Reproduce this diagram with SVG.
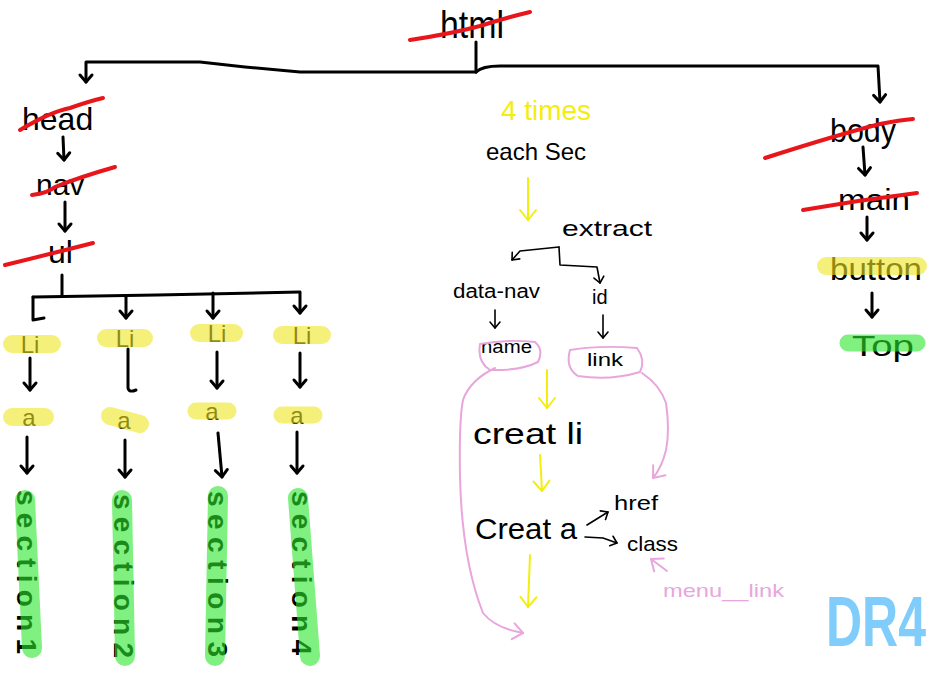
<svg xmlns="http://www.w3.org/2000/svg" width="934" height="676" viewBox="0 0 934 676">
<defs>
<style>
.t{font-family:"Liberation Sans","DejaVu Sans",sans-serif;fill:#000}
.c{text-anchor:middle}
.ln{fill:none;stroke:#000;stroke-width:3;stroke-linecap:round;stroke-linejoin:round}
.th{fill:none;stroke:#000;stroke-width:1.6;stroke-linecap:round;stroke-linejoin:round}
.ya{fill:none;stroke:#f3ee10;stroke-width:2;stroke-linecap:round}
.pk{fill:none;stroke:#e8a6dc;stroke-width:2;stroke-linecap:round;stroke-linejoin:round}
.st{fill:none;stroke:#e8161b;stroke-width:4;stroke-linecap:round}
.hy{fill:none;stroke:#eee621;stroke-opacity:0.6;stroke-linecap:round}
.hg{fill:none;stroke:#2be62b;stroke-opacity:0.6;stroke-linecap:round}
.sec{font-size:28px;font-weight:bold}
</style>
<marker id="ab" viewBox="-10 -8 12 16" refX="0" refY="0" markerWidth="12" markerHeight="16" markerUnits="userSpaceOnUse" orient="auto" overflow="visible"><path d="M-7,-6 L0,0 L-7,6" fill="none" stroke="#000" stroke-width="3" stroke-linecap="round" stroke-linejoin="round"/></marker>
<marker id="at" viewBox="-10 -8 12 16" refX="0" refY="0" markerWidth="12" markerHeight="16" markerUnits="userSpaceOnUse" orient="auto" overflow="visible"><path d="M-6,-5 L0,0 L-6,5" fill="none" stroke="#000" stroke-width="1.6" stroke-linecap="round" stroke-linejoin="round"/></marker>
<marker id="ay" viewBox="-14 -10 16 20" refX="0" refY="0" markerWidth="16" markerHeight="20" markerUnits="userSpaceOnUse" orient="auto" overflow="visible"><path d="M-10,-8 L0,0 L-10,8" fill="none" stroke="#f3ee10" stroke-width="2" stroke-linecap="round" stroke-linejoin="round"/></marker>
<marker id="ap" viewBox="-14 -10 16 20" refX="0" refY="0" markerWidth="16" markerHeight="20" markerUnits="userSpaceOnUse" orient="auto" overflow="visible"><path d="M-10,-8 L0,0 L-10,8" fill="none" stroke="#e8a6dc" stroke-width="2" stroke-linecap="round" stroke-linejoin="round"/></marker>
</defs>
<rect width="934" height="676" fill="#fff"/>

<g id="connectors">
<path class="ln" d="M476,42 L476,72"/>
<path class="ln" d="M476,72 L300,72 L245,67 L200,62 L86,62 L86,82" marker-end="url(#ab)"/>
<path class="ln" d="M476,72 Q482,66 500,66 L878,66 L880,102" marker-end="url(#ab)"/>
<path class="ln" d="M63,137 L64,160" marker-end="url(#ab)"/>
<path class="ln" d="M65,202 L65,231" marker-end="url(#ab)"/>
<path class="ln" d="M62,275 L62,295"/>
<path class="ln" d="M33,297 L157,295 L300,292"/>
<path class="ln" d="M33,297 L33,320 L44,318"/>
<path class="ln" d="M126,297 L126,318" marker-end="url(#ab)"/>
<path class="ln" d="M213,293 L213,318" marker-end="url(#ab)"/>
<path class="ln" d="M300,293 L300,313" marker-end="url(#ab)"/>
<path class="ln" d="M30,358 L30,390" marker-end="url(#ab)"/>
<path class="ln" d="M128,349 L128,388 Q129,393 136,390"/>
<path class="ln" d="M217,352 L217,388" marker-end="url(#ab)"/>
<path class="ln" d="M300,353 L300,387" marker-end="url(#ab)"/>
<path class="ln" d="M27,437 L27,473" marker-end="url(#ab)"/>
<path class="ln" d="M125,440 L125,477" marker-end="url(#ab)"/>
<path class="ln" d="M218,433 L222,477" marker-end="url(#ab)"/>
<path class="ln" d="M297,432 L297,473" marker-end="url(#ab)"/>
<path class="ln" d="M863,147 L865,175" marker-end="url(#ab)"/>
<path class="ln" d="M867,217 L867,240" marker-end="url(#ab)"/>
<path class="ln" d="M872,293 L872,317" marker-end="url(#ab)"/>
<path class="ya" d="M528,178 L528,220" marker-end="url(#ay)"/>
<path class="th" d="M559,247 L520,251 L512,260" marker-end="url(#at)"/>
<path class="th" d="M559,247 L560,265 L597,267 L600,283" marker-end="url(#at)"/>
<path class="th" d="M495,310 L495,328" marker-end="url(#at)"/>
<path class="th" d="M603,315 L603,338" marker-end="url(#at)"/>
<path class="ya" d="M547,370 L547,408" marker-end="url(#ay)"/>
<path class="ya" d="M540,455 L542,491" marker-end="url(#ay)"/>
<path class="th" d="M587,525 L608,512" marker-end="url(#at)"/>
<path class="th" d="M585,537 L603,538 L617,543" marker-end="url(#at)"/>
<path class="ya" d="M530,555 L528,607" marker-end="url(#ay)"/>
<path class="pk" d="M495,368 Q470,380 463,400 Q459,420 460,477 Q462,560 483,613 Q495,628 523,633" marker-end="url(#ap)"/>
<path class="pk" d="M642,373 Q660,385 666,403 Q670,430 666,450 Q662,467 653,478" marker-end="url(#ap)"/>
<path class="pk" d="M667,571 L651,559" marker-end="url(#ap)"/>
</g>

<g id="html">
<text class="t c" x="472" y="38" font-size="38" textLength="64" lengthAdjust="spacingAndGlyphs">html</text>
<path class="st" d="M410,40 Q450,34 480,26 Q505,18 530,12"/>
</g>

<g id="head">
<text class="t" x="22" y="130" font-size="32">head</text>
<path class="st" d="M20,130 Q50,112 70,108 Q90,101 103,98"/>
</g>
<g id="nav">
<text class="t" x="36" y="195" font-size="30">nav</text>
<path class="st" d="M32,195 Q48,193 55,187 Q80,177 115,167"/>
</g>
<g id="ul">
<text class="t" x="48" y="263" font-size="32">ul</text>
<path class="st" d="M5,265 Q50,254 93,243"/>
</g>

<g id="li1"><text class="t c" x="30" y="353" font-size="24">Li</text><path class="hy" stroke-width="18" d="M12,344 L52,344"/></g>
<g id="li2"><text class="t c" x="125" y="347" font-size="24">Li</text><path class="hy" stroke-width="18" d="M106,338 L144,338"/></g>
<g id="li3"><text class="t c" x="217" y="342" font-size="24">Li</text><path class="hy" stroke-width="18" d="M199,333 L234,333"/></g>
<g id="li4"><text class="t c" x="302" y="344" font-size="24">Li</text><path class="hy" stroke-width="18" d="M282,335 L322,335"/></g>

<g id="a1"><text class="t c" x="29" y="426" font-size="24">a</text><path class="hy" stroke-width="18" d="M12,417 L45,417"/></g>
<g id="a2"><text class="t c" x="124" y="429" font-size="24">a</text><path class="hy" stroke-width="18" d="M110,416 L140,424"/></g>
<g id="a3"><text class="t c" x="212" y="420" font-size="24">a</text><path class="hy" stroke-width="17" d="M196,411 L228,411"/></g>
<g id="a4"><text class="t c" x="297" y="424" font-size="24">a</text><path class="hy" stroke-width="17" d="M282,415 L314,415"/></g>

<g id="section1">
<text class="t sec" transform="translate(17,490) rotate(90)" textLength="164" lengthAdjust="spacing">section1</text>
<path class="hg" stroke-width="20" d="M25,500 L32,648"/>
</g>
<g id="section2">
<text class="t sec" transform="translate(114,494) rotate(90)" textLength="164" lengthAdjust="spacing">section2</text>
<path class="hg" stroke-width="20" d="M122,500 L125,656"/>
</g>
<g id="section3">
<text class="t sec" transform="translate(208,491) rotate(90)" textLength="166" lengthAdjust="spacing">section3</text>
<path class="hg" stroke-width="20" d="M218,496 L215,656"/>
</g>
<g id="section4">
<text class="t sec" transform="translate(292,491) rotate(90)" textLength="164" lengthAdjust="spacing">section4</text>
<path class="hg" stroke-width="20" d="M298,498 L310,656"/>
</g>

<g id="body">
<text class="t" x="830" y="142" font-size="34" textLength="66" lengthAdjust="spacingAndGlyphs">body</text>
<path class="st" d="M765,158 Q840,134 880,124 Q900,120 913,119"/>
</g>
<g id="main">
<text class="t" x="838" y="210" font-size="30" textLength="72" lengthAdjust="spacingAndGlyphs">main</text>
<path class="st" d="M803,210 Q860,200 917,193"/>
</g>
<g id="button">
<text class="t" x="830" y="280" font-size="32" textLength="92" lengthAdjust="spacingAndGlyphs">button</text>
<path class="hy" stroke-width="18" d="M826,266 L918,266"/>
</g>
<g id="top">
<text class="t" x="852" y="356" font-size="30" textLength="62" lengthAdjust="spacingAndGlyphs">Top</text>
<path class="hg" stroke-width="17" d="M848,343 L917,343"/>
</g>

<g id="times">
<text class="t c" x="546" y="120" font-size="28" style="fill:#f3ee10">4 times</text>
</g>
<g id="eachsec">
<text class="t c" x="536" y="160" font-size="24">each Sec</text>
</g>
<g id="extract">
<text class="t" x="562" y="236" font-size="22" textLength="90" lengthAdjust="spacingAndGlyphs">extract</text>
</g>
<g id="datanav">
<text class="t" x="453" y="298" font-size="20" textLength="87" lengthAdjust="spacingAndGlyphs">data-nav</text>
</g>
<g id="id">
<text class="t" x="592" y="304" font-size="20">id</text>
</g>
<g id="name">
<text class="t" x="481" y="353" font-size="18" textLength="51" lengthAdjust="spacingAndGlyphs">name</text>
<path class="pk" d="M480,344 Q505,339 535,342 Q544,350 538,362 Q520,371 490,370 Q477,362 480,344 Z"/>
</g>
<g id="link">
<text class="t" x="587" y="366" font-size="18" textLength="36" lengthAdjust="spacingAndGlyphs">link</text>
<path class="pk" d="M570,350 Q600,345 637,348 Q646,360 640,372 Q610,381 578,376 Q565,368 570,350 Z"/>
</g>
<g id="creatli">
<text class="t" x="473" y="444" font-size="30" textLength="110" lengthAdjust="spacingAndGlyphs">creat li</text>
</g>
<g id="creata">
<text class="t" x="475" y="539" font-size="30" textLength="102" lengthAdjust="spacingAndGlyphs">Creat a</text>
</g>
<g id="href">
<text class="t" x="614" y="510" font-size="20" textLength="44" lengthAdjust="spacingAndGlyphs">href</text>
</g>
<g id="class">
<text class="t" x="627" y="551" font-size="21" textLength="51" lengthAdjust="spacingAndGlyphs">class</text>
</g>
<g id="menulink">
<text class="t" x="663" y="597" font-size="19" textLength="121" lengthAdjust="spacingAndGlyphs" style="fill:#e8a6dc">menu__link</text>
</g>
<g id="dr4">
<text class="t" transform="translate(826,646) scale(1,1.4)" font-size="50" font-weight="bold" style="fill:#80cdfb">DR4</text>
</g>
</svg>
